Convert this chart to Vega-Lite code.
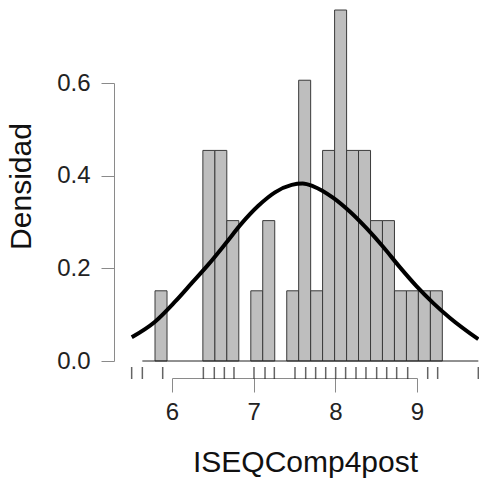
{
  "$schema": "https://vega.github.io/schema/vega-lite/v6.json",
  "autosize": "none",
  "padding": {"left": 172, "top": 83, "right": 62, "bottom": 120},
  "width": 245,
  "height": 278,
  "background": "white",
  "config": {
    "view": {"stroke": null},
    "font": "Liberation Sans",
    "axis": {
      "grid": false,
      "labelFlush": false,
      "labelOverlap": false,
      "domainColor": "#8a8a8a",
      "tickColor": "#8a8a8a",
      "domainWidth": 1,
      "tickWidth": 1,
      "labelFont": "Liberation Sans",
      "labelFontSize": 24,
      "labelColor": "#222222",
      "titleFont": "Liberation Sans",
      "titleFontSize": 30,
      "titleFontWeight": "normal",
      "titleColor": "#111111"
    }
  },
  "datasets": {
    "bins": [
      {"lo": 5.792, "hi": 5.939, "density": 0.1515},
      {"lo": 6.378, "hi": 6.525, "density": 0.4545},
      {"lo": 6.525, "hi": 6.671, "density": 0.4545},
      {"lo": 6.671, "hi": 6.818, "density": 0.303},
      {"lo": 6.965, "hi": 7.111, "density": 0.1515},
      {"lo": 7.111, "hi": 7.258, "density": 0.303},
      {"lo": 7.405, "hi": 7.551, "density": 0.1515},
      {"lo": 7.551, "hi": 7.698, "density": 0.606},
      {"lo": 7.698, "hi": 7.844, "density": 0.1515},
      {"lo": 7.844, "hi": 7.991, "density": 0.4545},
      {"lo": 7.991, "hi": 8.138, "density": 0.7575},
      {"lo": 8.138, "hi": 8.284, "density": 0.4545},
      {"lo": 8.284, "hi": 8.431, "density": 0.4545},
      {"lo": 8.431, "hi": 8.577, "density": 0.303},
      {"lo": 8.577, "hi": 8.724, "density": 0.303},
      {"lo": 8.724, "hi": 8.871, "density": 0.1515},
      {"lo": 8.871, "hi": 9.017, "density": 0.1515},
      {"lo": 9.017, "hi": 9.164, "density": 0.1515},
      {"lo": 9.164, "hi": 9.31, "density": 0.1515}
    ],
    "curve": [
      {"x": 5.507, "d": 0.0512},
      {"x": 5.792, "d": 0.0848},
      {"x": 6.037, "d": 0.128},
      {"x": 6.241, "d": 0.168},
      {"x": 6.444, "d": 0.208},
      {"x": 6.649, "d": 0.252},
      {"x": 6.853, "d": 0.297},
      {"x": 7.057, "d": 0.335},
      {"x": 7.261, "d": 0.364},
      {"x": 7.466, "d": 0.38},
      {"x": 7.6, "d": 0.383},
      {"x": 7.73, "d": 0.377},
      {"x": 7.975, "d": 0.352},
      {"x": 8.18, "d": 0.322},
      {"x": 8.384, "d": 0.286},
      {"x": 8.587, "d": 0.246},
      {"x": 8.792, "d": 0.202},
      {"x": 8.996, "d": 0.161},
      {"x": 9.199, "d": 0.125},
      {"x": 9.404, "d": 0.093},
      {"x": 9.751, "d": 0.047}
    ],
    "rug": [
      {"v": 5.506}, {"v": 5.637}, {"v": 5.886}, {"v": 6.384}, {"v": 6.518},
      {"v": 6.641}, {"v": 6.759}, {"v": 7.004}, {"v": 7.139}, {"v": 7.253},
      {"v": 7.506}, {"v": 7.637}, {"v": 7.759}, {"v": 7.882}, {"v": 8.004},
      {"v": 8.126}, {"v": 8.253}, {"v": 8.375}, {"v": 8.506}, {"v": 8.629},
      {"v": 8.751}, {"v": 8.886}, {"v": 9.131}, {"v": 9.253}, {"v": 9.751}
    ],
    "base": [
      {"from": 5.637, "to": 9.751, "y": 0}
    ]
  },
  "layer": [
    {
      "data": {"name": "bins"},
      "mark": {"type": "bar", "fill": "#bebebe", "stroke": "#3a3a3a", "strokeWidth": 1},
      "encoding": {
        "x": {
          "field": "lo",
          "type": "quantitative",
          "scale": {"domain": [6, 9], "nice": false, "zero": false},
          "axis": {
            "values": [6, 7, 8, 9],
            "format": "d",
            "offset": 17,
            "tickSize": 14,
            "labelPadding": 8,
            "title": "ISEQComp4post",
            "titleX": 133,
            "titleY": 84,
            "titleBaseline": "middle",
            "titleAnchor": null
          }
        },
        "x2": {"field": "hi"},
        "y": {
          "field": "density",
          "type": "quantitative",
          "scale": {"domain": [0, 0.6], "nice": false},
          "axis": {
            "values": [0, 0.2, 0.4, 0.6],
            "format": ".1f",
            "offset": 58,
            "tickSize": 13,
            "labelPadding": 11,
            "title": "Densidad",
            "titleX": -93,
            "titleY": 103,
            "titleAngle": -90,
            "titleAlign": "center",
            "titleBaseline": "middle"
          }
        },
        "y2": {"datum": 0}
      }
    },
    {
      "data": {"name": "base"},
      "mark": {"type": "rule", "color": "#222222", "strokeWidth": 1},
      "encoding": {
        "x": {"field": "from", "type": "quantitative"},
        "x2": {"field": "to"},
        "y": {"field": "y", "type": "quantitative"}
      }
    },
    {
      "data": {"name": "rug"},
      "mark": {"type": "tick", "orient": "vertical", "color": "#222222", "size": 12, "thickness": 1.5, "yOffset": 12},
      "encoding": {
        "x": {"field": "v", "type": "quantitative"},
        "y": {"datum": 0, "type": "quantitative"}
      }
    },
    {
      "data": {"name": "curve"},
      "mark": {"type": "line", "color": "#000000", "strokeWidth": 4, "interpolate": "monotone"},
      "encoding": {
        "x": {"field": "x", "type": "quantitative"},
        "y": {"field": "d", "type": "quantitative"}
      }
    }
  ]
}
